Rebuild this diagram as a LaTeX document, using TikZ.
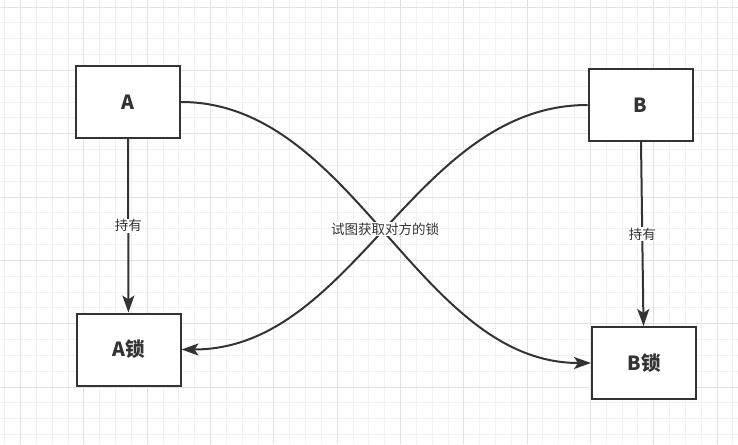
\documentclass[tikz,border=0pt]{standalone}
\usepackage{fontspec}
\newfontfamily\cjk{Noto Sans CJK SC}
\usetikzlibrary{arrows.meta}
\definecolor{linegray}{HTML}{333333}
\definecolor{gridminor}{HTML}{F1F1F1}
\definecolor{gridmajor}{HTML}{E2E2E2}

\begin{document}
\begin{tikzpicture}[x=1pt, y=-1pt]
  % Style definitions
  \tikzstyle{box} = [rectangle, draw=linegray, line width=2pt, fill=white, minimum width=104pt, minimum height=72pt, inner sep=0pt, text=linegray, font=\cjk\bfseries\fontsize{19.5}{20}\selectfont]
  \tikzstyle{link} = [draw=linegray, line width=2pt, -{Stealth[length=17pt, width=12pt, inset=4pt]}]
  \tikzstyle{tag} = [fill=white, inner sep=1pt, text=linegray, font=\cjk\fontsize{13.5}{14}\selectfont]

  % Background grid
  \fill[white] (0,0) rectangle (738,444);
  \useasboundingbox (0,0) rectangle (738,444);
  \foreach \i in {-1,...,46} {
    \draw[gridminor, line width=0.8pt] (20.5+15.83*\i,0) -- ++(0,444);
  }
  \foreach \i in {-1,...,28} {
    \draw[gridminor, line width=0.8pt] (0,7+15.83*\i) -- ++(738,0);
  }
  \foreach \i in {0,...,11} {
    \draw[gridmajor, line width=0.8pt] (20.5+63.32*\i,0) -- ++(0,444);
  }
  \foreach \i in {0,...,7} {
    \draw[gridmajor, line width=0.8pt] (0,7+63.32*\i) -- ++(738,0);
  }

  % Boxes
  \node (a) [box] at (128,102) {A};
  \node (b) [box] at (640.5,105) {B};
  \node (alock) [box] at (128.5,349.5) {A锁};
  \node (block) [box] at (644,363) {B锁};

  % Arrows
  \draw[link] (a) -- node[tag] (holda) {持有} (alock);
  \draw[link] (b) -- node[tag] (holdb) {持有} (block);
  \draw[link] (a.east) .. controls +(173,0) and +(-173,0) .. (block.west);
  \draw[link] (b.west) .. controls +(-173,0) and +(173,0) .. (alock.east);
  \node (try) [tag] at (385,229) {试图获取对方的锁};
\end{tikzpicture}
\end{document}
